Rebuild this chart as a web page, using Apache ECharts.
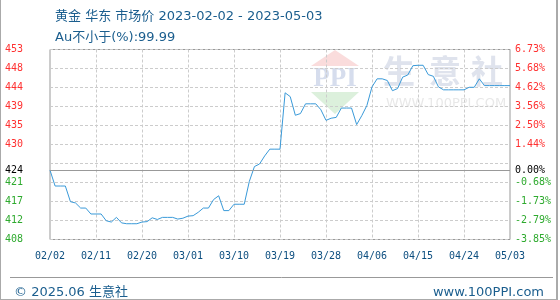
<!DOCTYPE html>
<html><head><meta charset="utf-8">
<script src="https://cdn.jsdelivr.net/npm/echarts@6/dist/echarts.min.js"></script>
<style>html,body{margin:0;padding:0;background:#fff;}#c{width:560px;height:300px;}</style>
</head><body><div id="c"></div>
<script>
// ---- data ----
var dates = [
'02/02','02/03','02/04','02/05','02/06','02/07','02/08','02/09','02/10','02/11','02/12','02/13','02/14','02/15','02/16','02/17','02/18','02/19','02/20','02/21','02/22','02/23','02/24','02/25','02/26','02/27','02/28',
'03/01','03/02','03/03','03/04','03/05','03/06','03/07','03/08','03/09','03/10','03/11','03/12','03/13','03/14','03/15','03/16','03/17','03/18','03/19','03/20','03/21','03/22','03/23','03/24','03/25','03/26','03/27','03/28','03/29','03/30','03/31',
'04/01','04/02','04/03','04/04','04/05','04/06','04/07','04/08','04/09','04/10','04/11','04/12','04/13','04/14','04/15','04/16','04/17','04/18','04/19','04/20','04/21','04/22','04/23','04/24','04/25','04/26','04/27','04/28','04/29','04/30',
'05/01','05/02','05/03'];
var prices = [
424.43,420.7,420.7,420.7,417.0,416.7,415.5,415.5,414.1,414.1,414.1,412.5,412.2,413.3,412.0,411.8,411.8,411.8,412.2,412.3,
413.2,412.8,413.3,413.3,413.3,412.9,413.1,413.6,413.7,414.5,415.5,415.5,417.5,418.4,414.9,414.9,416.4,416.4,416.4,421.8,
425.3,425.9,427.8,429.4,429.4,429.4,442.7,441.8,437.4,437.8,440.1,440.1,440.1,438.7,436.2,436.7,436.9,439.1,439.1,439.1,
435.2,437.3,439.7,444.1,446.0,446.0,445.6,443.2,443.7,446.4,446.9,449.1,449.2,449.2,447.0,446.6,444.1,443.4,443.4,443.4,
443.4,443.4,444.0,444.0,446.0,444.4,444.4,444.4,444.4,444.4,444.4];
var basePrice = 424.43;
var leftTickLabels = ['408','412','417','421','','430','435','439','444','448','453'];
var rightTickLabels = ['-3.85%','-2.79%','-1.73%','-0.68%','','1.44%','2.50%','3.56%','4.62%','5.68%','6.73%'];
var baseLeftLabel = '424';
var baseRightLabel = '0.00%';
var axisStep = 287/64;          // tick interval
var axisMin = 91*287/64;        // multiple of interval
var axisMax = 101*287/64;
var titleLine1 = '黄金 华东 市场价 2023-02-02 - 2023-05-03';
var titleLine2 = 'Au不小于(%):99.99';
var footLeft = '© 2025.06 生意社';
var footRight = 'www.100PPI.com';

var RED = '#ff3030', GREEN = '#2eaa2e', BLUE_T = '#1b5e8e';
function tickFmt(arr, baseIdx){
  return function(v, i){
    var s = arr[i]; if (!s) return '';
    return (i < baseIdx ? '{g|' : '{r|') + s + '}';
  };
}
var chart = echarts.init(document.getElementById('c'), null, {renderer:'canvas'});
var mono = 'DejaVu Sans Mono';
chart.setOption({
  animation:false,
  backgroundColor:'#fff',
  title:[
    {text:titleLine1, left:50, top:5, textStyle:{fontSize:13, fontWeight:'normal', color:BLUE_T, fontFamily:'DejaVu Sans, Noto Sans CJK SC'}},
    {text:titleLine2, left:50, top:26, textStyle:{fontSize:13, fontWeight:'normal', color:BLUE_T, fontFamily:'DejaVu Sans, Noto Sans CJK SC'}},
    {text:footLeft, left:9, top:281, textStyle:{fontSize:13, fontWeight:'normal', color:BLUE_T, fontFamily:'DejaVu Sans, Noto Sans CJK SC'}},
    {text:footRight, right:11, top:281, textStyle:{fontSize:13, fontWeight:'normal', color:BLUE_T, fontFamily:'DejaVu Sans'}}
  ],
  graphic:[
    {type:'polygon', z:-10, silent:true, shape:{points:[[335,50],[359,66],[311,66]]}, style:{fill:'#fadcdc'}},
    {type:'polygon', z:-10, silent:true, shape:{points:[[311,92],[359,92],[335,114]]}, style:{fill:'#dcf0dc'}},
    {type:'text', z:-10, silent:true, x:335, y:79, style:{text:'PPI', fill:'#d6dded', font:'bold 27px "Liberation Serif"', align:'center', verticalAlign:'middle'}},
    {type:'text', z:-10, silent:true, x:399, y:71, style:{text:'生', fill:'#dfe3ed', font:'bold 32px "Noto Sans CJK SC"', align:'center', verticalAlign:'middle'}},
    {type:'text', z:-10, silent:true, x:445, y:71, style:{text:'意', fill:'#dfe3ed', font:'bold 32px "Noto Sans CJK SC"', align:'center', verticalAlign:'middle'}},
    {type:'text', z:-10, silent:true, x:487, y:71, style:{text:'社', fill:'#dfe3ed', font:'bold 32px "Noto Sans CJK SC"', align:'center', verticalAlign:'middle'}},
    {type:'text', z:-10, silent:true, x:446, y:104, style:{text:'WWW.100PPI.COM', fill:'#e8e8e8', font:'13px "DejaVu Sans"', align:'center', verticalAlign:'middle'}},
    {type:'line', silent:true, shape:{x1:10, y1:277.5, x2:553, y2:277.5}, style:{stroke:'#999', lineWidth:1}},
    {type:'line', silent:true, shape:{x1:0.5, y1:0, x2:0.5, y2:300}, style:{stroke:'#aaa', lineWidth:1}},
    {type:'line', silent:true, shape:{x1:557, y1:0, x2:557, y2:300}, style:{stroke:'#aaa', lineWidth:2}},
    {type:'line', silent:true, shape:{x1:0, y1:299.5, x2:558, y2:299.5}, style:{stroke:'#aaa', lineWidth:1}}
  ],
  grid:{left:50, right:50, top:49.5, bottom:60.5, show:true, borderColor:'#999', borderWidth:1, backgroundColor:'transparent'},
  xAxis:{
    type:'category', data:dates, boundaryGap:false,
    axisLine:{show:false}, axisTick:{show:false},
    axisLabel:{interval:8, margin:12, fontSize:10, fontFamily:mono, color:'#0d4f80'},
    splitLine:{show:true, interval:8, lineStyle:{color:'#cccccc', type:[3,2], width:1}}
  },
  yAxis:[
    {type:'value', position:'left', min:axisMin, max:axisMax, interval:axisStep,
     axisLine:{show:false}, axisTick:{show:false},
     splitLine:{show:true, lineStyle:{color:'#cccccc', type:[3,2], width:1}},
     axisLabel:{margin:27, fontSize:10, fontFamily:mono, formatter:tickFmt(leftTickLabels,4),
       rich:{r:{color:RED, fontSize:10, fontFamily:mono}, g:{color:GREEN, fontSize:10, fontFamily:mono}}}},
    {type:'value', position:'right', min:axisMin, max:axisMax, interval:axisStep,
     axisLine:{show:false}, axisTick:{show:false}, splitLine:{show:false},
     axisLabel:{margin:5, fontSize:10, fontFamily:mono, align:'left', formatter:tickFmt(rightTickLabels,4),
       rich:{r:{color:RED, fontSize:10, fontFamily:mono}, g:{color:GREEN, fontSize:10, fontFamily:mono}}}}
  ],
  series:[{
    type:'line', data:prices, yAxisIndex:0, showSymbol:false, symbol:'none',
    lineStyle:{color:'#3a9ad9', width:1}, itemStyle:{color:'#3a9ad9'},
    markLine:{silent:true, symbol:['none','none'], animation:false,
      lineStyle:{color:'#999', type:'solid', width:1},
      data:[
        {yAxis:basePrice, label:{show:true, position:'start', distance:27, formatter:baseLeftLabel, color:'#000', fontSize:10, fontFamily:mono}},
        {yAxis:basePrice, label:{show:true, position:'end', distance:5, formatter:baseRightLabel, color:'#000', fontSize:10, fontFamily:mono}}
      ]}
  }]
});
</script></body></html>
